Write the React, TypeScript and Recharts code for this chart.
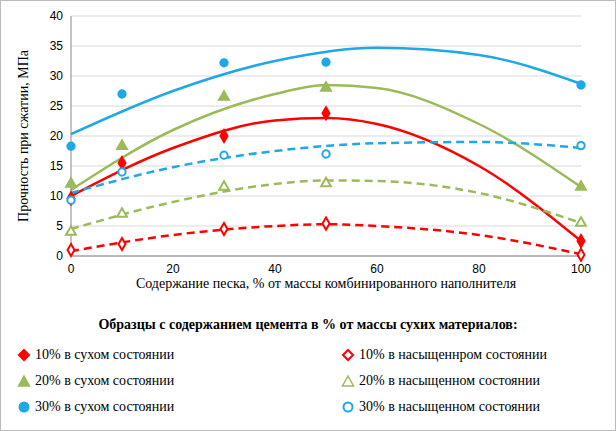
import React from "react";
import { ComposedChart, Line, Scatter, XAxis, YAxis, ZAxis, CartesianGrid } from "recharts";

const xTicks = [0, 20, 40, 60, 80, 100];
const yTicks = [0, 5, 10, 15, 20, 25, 30, 35, 40];

const red = "#ff0000";
const green = "#9bbb59";
const blue = "#1fa8e6";

const dry10 = [{ x: 0, y: 9.6 }, { x: 10, y: 15.5 }, { x: 30, y: 20 }, { x: 50, y: 23.8 }, { x: 100, y: 2.5 }];
const sat10 = [{ x: 0, y: 1 }, { x: 10, y: 2 }, { x: 30, y: 4.5 }, { x: 50, y: 5.4 }, { x: 100, y: 0.2 }];
const dry20 = [{ x: 0, y: 12 }, { x: 10, y: 18.3 }, { x: 30, y: 26.5 }, { x: 50, y: 28 }, { x: 100, y: 11.5 }];
const sat20 = [{ x: 0, y: 4 }, { x: 10, y: 7 }, { x: 30, y: 11.5 }, { x: 50, y: 12.1 }, { x: 100, y: 5.5 }];
const dry30 = [{ x: 0, y: 18.3 }, { x: 10, y: 27 }, { x: 30, y: 32.2 }, { x: 50, y: 32.3 }, { x: 100, y: 28.5 }];
const sat30 = [{ x: 0, y: 9.3 }, { x: 10, y: 14 }, { x: 30, y: 16.8 }, { x: 50, y: 17 }, { x: 100, y: 18.4 }];

const trendDry10 = [{ x: 0, y: 10 }, { x: 20, y: 18 }, { x: 40, y: 22.6 }, { x: 50, y: 23 }, { x: 60, y: 22 }, { x: 80, y: 15 }, { x: 100, y: 2.5 }];
const trendSat10 = [{ x: 0, y: 0.8 }, { x: 20, y: 3.5 }, { x: 40, y: 5 }, { x: 50, y: 5.3 }, { x: 60, y: 5 }, { x: 80, y: 3.5 }, { x: 100, y: 0.3 }];
const trendDry20 = [{ x: 0, y: 11 }, { x: 20, y: 21 }, { x: 40, y: 27 }, { x: 50, y: 28.5 }, { x: 60, y: 28 }, { x: 80, y: 22 }, { x: 100, y: 11.5 }];
const trendSat20 = [{ x: 0, y: 4.5 }, { x: 20, y: 9 }, { x: 40, y: 12 }, { x: 50, y: 12.6 }, { x: 60, y: 12.5 }, { x: 80, y: 10.5 }, { x: 100, y: 5.5 }];
const trendDry30 = [{ x: 0, y: 20.3 }, { x: 20, y: 27.5 }, { x: 40, y: 32.5 }, { x: 60, y: 34.7 }, { x: 80, y: 33.5 }, { x: 100, y: 28.7 }];
const trendSat30 = [{ x: 0, y: 10.5 }, { x: 20, y: 14.8 }, { x: 40, y: 17.5 }, { x: 60, y: 18.8 }, { x: 80, y: 19 }, { x: 100, y: 18 }];

const legendItems = [
  { t: "10% в сухом  состоянии", c: red, s: "diamond", f: true },
  { t: "10% в насыщеннром состоянии", c: red, s: "diamond", f: false },
  { t: "20% в сухом  состоянии", c: green, s: "triangle", f: true },
  { t: "20% в насыщенном состоянии", c: green, s: "triangle", f: false },
  { t: "30% в сухом  состоянии", c: blue, s: "circle", f: true },
  { t: "30% в насыщенном состоянии", c: blue, s: "circle", f: false },
];

function Icon({ c, s, f }: any) {
  const fill = f ? c : "#fff";
  return (
    <svg width={14} height={14} style={{ marginRight: 4 }}>
      {s === "diamond" && <polygon points="7,2 12,7 7,12 2,7" fill={fill} stroke={c} strokeWidth={2} />}
      {s === "triangle" && <polygon points="7,2 12.5,12 1.5,12" fill={fill} stroke={c} strokeWidth={1.5} />}
      {s === "circle" && <circle cx={7} cy={7} r={4.5} fill={fill} stroke={c} strokeWidth={2} />}
    </svg>
  );
}

export default function App() {
  const serif = "'Liberation Serif', serif";
  const sans = "'Liberation Sans', sans-serif";
  const trend = (d: any, c: string, dash: boolean, k: string) => (
    <Line key={k} data={d} dataKey="y" type="monotone" stroke={c} strokeWidth={2.5} dot={false}
      strokeDasharray={dash ? "8 5" : undefined} isAnimationActive={false} />
  );
  const sc = (d: any, c: string, shape: any, f: boolean, k: string) => (
    <Scatter key={k} data={d} dataKey="y" shape={shape} fill={f ? c : "#fff"} stroke={c}
      strokeWidth={2} legendType="none" isAnimationActive={false} />
  );
  return (
    <div style={{ position: "absolute", left: 0, top: 0, width: 614, height: 429, border: "1px solid #bbb", background: "#fff" }}>
      <ComposedChart width={614} height={305} margin={{ top: 15, right: 34, left: 0, bottom: 0 }}>
        <CartesianGrid stroke="#d9d9d9" vertical={false} />
        <XAxis type="number" dataKey="x" domain={[0, 100]} ticks={xTicks} height={50} tickLine={false}
          stroke="#888" tick={{ fill: "#000", fontSize: 12, fontFamily: sans }}
          label={{ value: "Содержание песка, % от массы комбинированного наполнителя", position: "insideBottom", offset: 18, fill: "#000", fontSize: 14, fontFamily: serif }} />
        <YAxis type="number" domain={[0, 40]} ticks={yTicks} width={70} tickLine={false} stroke="#888"
          tick={{ fill: "#000", fontSize: 12, fontFamily: sans }}
          label={{ value: "Прочность при сжатии, МПа", angle: -90, position: "insideLeft", offset: 22, dy: 0, fill: "#000", fontSize: 14, fontFamily: serif, style: { textAnchor: "middle" } }} />
        <ZAxis range={[42, 42]} />
        {trend(trendDry10, red, false, "a")}
        {trend(trendSat10, red, true, "b")}
        {trend(trendDry20, green, false, "c")}
        {trend(trendSat20, green, true, "d")}
        {trend(trendDry30, blue, false, "e")}
        {trend(trendSat30, blue, true, "f")}
        {sc(dry10, red, "diamond", true, "g")}
        {sc(sat10, red, "diamond", false, "h")}
        {sc(dry20, green, "triangle", true, "i")}
        {sc(sat20, green, "triangle", false, "j")}
        {sc(dry30, blue, "circle", true, "k")}
        {sc(sat30, blue, "circle", false, "l")}
      </ComposedChart>
      <div style={{ position: "absolute", top: 316, left: 0, width: 614, textAlign: "center", fontFamily: serif, fontWeight: "bold", fontSize: 14 }}>
        Образцы с содержанием цемента в % от массы сухих  материалов:
      </div>
      <div style={{ position: "absolute", top: 345, left: 16, width: 590, display: "grid", gridTemplateColumns: "324px 260px", rowGap: 9, fontFamily: serif, fontSize: 14 }}>
        {legendItems.map((it, i) => (
          <div key={i} style={{ display: "flex", alignItems: "center", height: 17 }}>
            <Icon c={it.c} s={it.s} f={it.f} />{it.t}
          </div>
        ))}
      </div>
    </div>
  );
}
